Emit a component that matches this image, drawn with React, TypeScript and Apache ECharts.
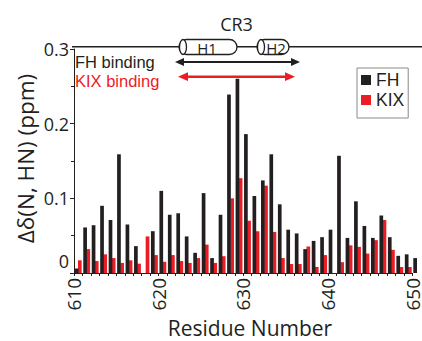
import React, { useEffect, useRef } from "react";
import * as echarts from "echarts";

// Residues 610..650
const fhShift: (number | null)[] = [
  0.006, 0.061, 0.064, 0.090, 0.071, 0.159, 0.065, 0.036, null, 0.056,
  0.110, 0.078, 0.080, 0.049, 0.027, 0.107, 0.020, 0.078, 0.239, 0.260,
  0.186, 0.103, 0.124, 0.159, 0.092, 0.058, 0.053, 0.032, 0.043, 0.048,
  0.058, 0.157, 0.047, 0.096, 0.063, 0.047, 0.077, 0.048, 0.023, 0.025,
  0.020,
];
const kixShift: (number | null)[] = [
  null, 0.017, 0.032, 0.016, 0.025, 0.020, 0.0135, 0.017, 0.0125, 0.049,
  0.024, 0.015, 0.024, 0.016, 0.0135, 0.020, 0.038, 0.0135, 0.0225, 0.100,
  0.127, 0.070, 0.056, 0.117, 0.055, 0.020, 0.012, 0.012, 0.0355, 0.008,
  0.024, null, 0.0145, 0.037, 0.035, 0.026, 0.044, 0.071, 0.031, 0.008,
  0.008,
];
const firstResidue = 610;
const residues = fhShift.map((_, i) => String(firstResidue + i));
const yTicks = [0, 0.1, 0.2, 0.3];

const BLACK = "#231f20";
const RED = "#ec1c24";
const FONT = '"Open Sans", "Liberation Sans", sans-serif';
const TIGHT_FONT = '"Liberation Sans", Arial, sans-serif';

export default function App() {
  const ref = useRef<HTMLDivElement>(null);
  useEffect(() => {
    document.body.style.margin = "0";
    if (!ref.current) return;
    const chart = echarts.init(ref.current, undefined, { renderer: "svg" });
    chart.setOption({
      animation: false,
      textStyle: { fontFamily: FONT },
      grid: { left: 74, right: 8, top: 49, bottom: 68, containLabel: false },
      legend: {
        data: ["FH", "KIX"],
        orient: "vertical",
        left: 357,
        top: 68,
        padding: [3, 4, 9, 4],
        itemGap: 2,
        itemWidth: 10,
        itemHeight: 10,
        icon: "rect",
        borderColor: "#8a8a8a",
        borderWidth: 1,
        textStyle: { fontSize: 17.5, color: BLACK, fontFamily: TIGHT_FONT, lineHeight: 18 },
      },
      xAxis: {
        type: "category",
        data: residues,
        boundaryGap: false,
        axisLine: { lineStyle: { color: BLACK, width: 1 } },
        axisTick: { show: true, interval: 0, length: 3, lineStyle: { color: BLACK } },
        axisLabel: {
          interval: 9,
          rotate: 90,
          margin: 5,
          fontSize: 19,
          lineHeight: 14,
          color: BLACK,
          fontFamily: FONT,
        },
        splitLine: { show: false },
      },
      yAxis: {
        type: "value",
        min: yTicks[0],
        max: yTicks[yTicks.length - 1],
        interval: 0.1,
        axisLine: { show: true, lineStyle: { color: BLACK, width: 1 } },
        axisTick: { show: true, length: 4, lineStyle: { color: BLACK } },
        minorTick: { show: true, splitNumber: 2, length: 3, lineStyle: { color: BLACK } },
        splitLine: { show: false },
        axisLabel: {
          margin: 5,
          fontSize: 18,
          color: BLACK,
          fontFamily: FONT,
          formatter: (v: number) => (v === 0 ? "{z|0}" : String(Math.round(v * 10) / 10)),
          rich: { z: { fontSize: 18, fontFamily: FONT, color: BLACK, padding: [0, 0, 24, 0] } },
        },
      },
      series: [
        {
          name: "KIX",
          type: "bar",
          data: kixShift,
          barWidth: 3.7,
          barGap: "43%",
          itemStyle: { color: RED },
          clip: false,
        },
        {
          name: "FH",
          type: "bar",
          data: fhShift,
          barWidth: 3.7,
          barGap: "43%",
          itemStyle: { color: BLACK },
          clip: false,
        },
      ],
      graphic: [
        {
          type: "text", x: 236.5, y: 23.5,
          style: { text: "CR3", fill: BLACK, fontSize: 18, fontFamily: FONT, align: "center", verticalAlign: "middle" },
        },
        {
          type: "line", shape: { x1: 72, y1: 46.7, x2: 422, y2: 46.7 },
          style: { stroke: BLACK, lineWidth: 1.5 },
        },
        {
          type: "rect", shape: { x: 179, y: 39.5, width: 58, height: 15, r: 7.5 },
          style: { fill: "#fff", stroke: BLACK, lineWidth: 1.3 },
        },
        {
          type: "ellipse", shape: { cx: 183, cy: 47, rx: 3.5, ry: 7.5 },
          style: { fill: "#fff", stroke: BLACK, lineWidth: 1.3 },
        },
        {
          type: "text", x: 207, y: 47.5,
          style: { text: "H1", fill: BLACK, fontSize: 15, fontFamily: FONT, align: "center", verticalAlign: "middle" },
        },
        {
          type: "rect", shape: { x: 257, y: 39.5, width: 32, height: 15, r: 7.5 },
          style: { fill: "#fff", stroke: BLACK, lineWidth: 1.3 },
        },
        {
          type: "ellipse", shape: { cx: 261, cy: 47, rx: 3.5, ry: 7.5 },
          style: { fill: "#fff", stroke: BLACK, lineWidth: 1.3 },
        },
        {
          type: "text", x: 276, y: 47.5,
          style: { text: "H2", fill: BLACK, fontSize: 15, fontFamily: FONT, align: "center", verticalAlign: "middle" },
        },
        {
          type: "text", x: 75, y: 61.5,
          style: { text: "FH binding", fill: BLACK, fontSize: 16.5, lineHeight: 16, fontFamily: TIGHT_FONT, align: "left", verticalAlign: "middle" },
        },
        {
          type: "text", x: 75, y: 80.5,
          style: { text: "KIX binding", fill: RED, fontSize: 16.5, lineHeight: 16, fontFamily: TIGHT_FONT, align: "left", verticalAlign: "middle" },
        },
        {
          type: "line", shape: { x1: 181, y1: 62, x2: 294, y2: 62 },
          style: { stroke: BLACK, lineWidth: 2 },
        },
        {
          type: "polygon", shape: { points: [[175, 62], [184, 58], [184, 66]] },
          style: { fill: BLACK },
        },
        {
          type: "polygon", shape: { points: [[300, 62], [291, 58], [291, 66]] },
          style: { fill: BLACK },
        },
        {
          type: "line", shape: { x1: 184, y1: 76.7, x2: 289, y2: 76.7 },
          style: { stroke: RED, lineWidth: 2.5 },
        },
        {
          type: "polygon", shape: { points: [[178, 76.7], [188, 72.3], [188, 81.1]] },
          style: { fill: RED },
        },
        {
          type: "polygon", shape: { points: [[295, 76.7], [285, 72.3], [285, 81.1]] },
          style: { fill: RED },
        },
        {
          type: "text", x: 25, y: 158.5, rotation: Math.PI / 2,
          style: { text: "Δδ(N, HN) (ppm)", fill: BLACK, fontSize: 22.5, fontFamily: FONT, align: "center", verticalAlign: "middle" },
        },
        {
          type: "text", x: 250, y: 328,
          style: { text: "Residue Number", fill: BLACK, fontSize: 21, lineHeight: 21, fontFamily: FONT, align: "center", verticalAlign: "middle" },
        },
      ],
    });
    return () => chart.dispose();
  }, []);
  return <div ref={ref} style={{ width: 422, height: 341 }} />;
}
